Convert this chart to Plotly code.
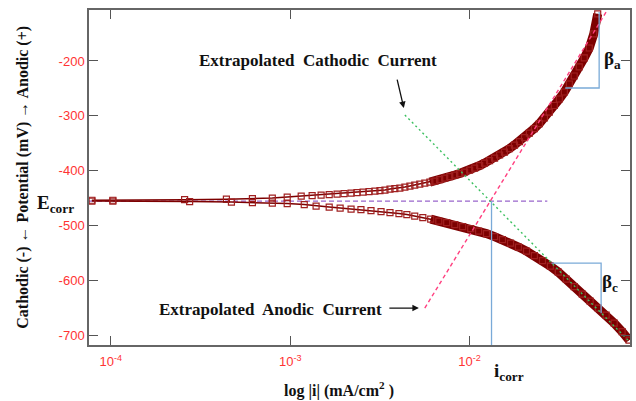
import plotly.graph_objects as go

# ---------------- data ----------------
# anodic (upper) branch: log10 |i| (mA/cm2) and potential (mV)
anodic_log_i = [-4.106, -3.989, -3.589, -3.356, -3.211, -3.100, -3.017, -2.939, -2.878, -2.828,
                -2.783, -2.739, -2.700, -2.661, -2.628, -2.594, -2.561, -2.528, -2.500, -2.472,
                -2.444, -2.417, -2.389, -2.361, -2.333, -2.306, -2.278, -2.250, -2.222, -2.194,
                -2.167, -2.139, -2.111, -2.083, -2.056, -2.028, -2.000, -1.972, -1.944, -1.917,
                -1.889, -1.861, -1.833, -1.806, -1.778, -1.750, -1.722, -1.694, -1.667, -1.639,
                -1.611, -1.583, -1.556, -1.528, -1.500, -1.472, -1.444, -1.417, -1.389, -1.361,
                -1.333, -1.308, -1.286]
anodic_E = [-454, -454, -453, -452, -451, -450, -448.2, -446.3, -445.4, -444.5,
            -443.6, -442.7, -441.8, -440.9, -440.0, -439.0, -438.1, -437.2, -436.3, -435.4,
            -433.6, -432.7, -431.8, -429.9, -428.1, -426.3, -424.5, -422.6, -420.8, -419.0,
            -416.2, -413.5, -410.8, -408.0, -405.3, -402.6, -398.9, -395.3, -390.7, -386.1,
            -381.6, -377.0, -371.5, -366.1, -359.7, -353.3, -346.9, -339.6, -331.4, -323.2,
            -314.1, -304.0, -293.1, -281.2, -269.3, -256.6, -242.0, -227.4, -210.9, -194.5,
            -176.3, -150.7, -114.2]

# cathodic (lower) branch
cathodic_log_i = [-4.106, -3.989, -3.561, -3.328, -3.211, -3.100, -3.017, -2.922, -2.856, -2.783,
                  -2.722, -2.661, -2.606, -2.550, -2.494, -2.444, -2.394, -2.350, -2.306, -2.261,
                  -2.217, -2.172, -2.128, -2.083, -2.039, -1.994, -1.950, -1.906, -1.861, -1.817,
                  -1.772, -1.728, -1.683, -1.639, -1.594, -1.550, -1.506, -1.461, -1.417, -1.372,
                  -1.328, -1.283, -1.239, -1.194, -1.150, -1.111]
cathodic_E = [-455.5, -455.5, -456.4, -457.3, -458.2, -459.1, -460.0, -461.9, -464.6, -466.4,
              -468.3, -470.1, -471.0, -472.8, -474.6, -476.5, -478.3, -480.1, -482.8, -485.6,
              -488.3, -491.9, -494.7, -498.4, -502.0, -505.7, -510.2, -514.8, -520.3, -525.7,
              -532.1, -539.4, -546.7, -554.9, -564.1, -574.1, -585.0, -597.8, -611.5, -625.2,
              -637.9, -650.7, -663.5, -678.1, -693.6, -709.1]

# extrapolated Tafel lines (log i, E)
cath_extrap_log_i = [-2.361, -1.117]
cath_extrap_E = [-298.5, -709.1]
anod_extrap_log_i = [-2.250, -1.239]
anod_extrap_E = [-650.7, -110.6]

E_corr = -455.5
log_i_corr = -1.878
ecorr_line_log_i = [-4.122, -1.567]

# beta triangles (log i, E)
beta_a_log_i = [-1.467, -1.278, -1.278]
beta_a_E = [-249.3, -249.3, -110.6]
beta_c_log_i = [-1.544, -1.267, -1.267]
beta_c_E = [-568.6, -568.6, -659.9]

x_range_log = [-4.122, -1.106]
y_range = [-718, -107]
y_ticks = [-200, -300, -400, -500, -600, -700]
y_tick_text = ['-200', '-300', '-400', '-500', '-600', '-700']
x_ticks = [1e-4, 1e-3, 1e-2]
x_tick_text = ['10<sup>-4</sup>', '10<sup>-3</sup>', '10<sup>-2</sup>']

# ---------------- figure ----------------
def to_i(logs):
    return [10 ** v for v in logs]

dark_red = '#7d0000'
fig = go.Figure()

fig.add_trace(go.Scatter(x=to_i(ecorr_line_log_i), y=[E_corr, E_corr], mode='lines',
                         line=dict(color='#9966cc', width=1.3, dash='5px,3px'), hoverinfo='skip'))

# thick band where data are dense
band_a = [(a, b) for a, b in zip(anodic_log_i, anodic_E) if a > -2.25]
band_c = [(a, b) for a, b in zip(cathodic_log_i, cathodic_E) if a > -2.25]
for band in (band_a, band_c):
    fig.add_trace(go.Scatter(x=to_i([p[0] for p in band]), y=[p[1] for p in band], mode='lines',
                             line=dict(color=dark_red, width=9), hoverinfo='skip'))

for lx, ly in ((anodic_log_i, anodic_E), (cathodic_log_i, cathodic_E)):
    fig.add_trace(go.Scatter(x=to_i(lx), y=ly, mode='lines+markers',
                             line=dict(color=dark_red, width=1.5),
                             marker=dict(symbol='square-open', size=6, color='#a02020',
                                         line=dict(width=1.2, color='#a02020'))))

fig.add_trace(go.Scatter(x=to_i(cath_extrap_log_i), y=cath_extrap_E, mode='lines',
                         line=dict(color='#3cc060', width=1.4, dash='2px,3px'), hoverinfo='skip'))
fig.add_trace(go.Scatter(x=to_i(anod_extrap_log_i), y=anod_extrap_E, mode='lines',
                         line=dict(color='#ff3f7f', width=1.4, dash='4px,3px'), hoverinfo='skip'))

blue = '#7aaad8'
fig.add_trace(go.Scatter(x=to_i([log_i_corr, log_i_corr]), y=[E_corr, y_range[0]], mode='lines',
                         line=dict(color=blue, width=1.3), hoverinfo='skip'))
fig.add_trace(go.Scatter(x=to_i(beta_a_log_i), y=beta_a_E, mode='lines',
                         line=dict(color=blue, width=1.3), hoverinfo='skip'))
fig.add_trace(go.Scatter(x=to_i(beta_c_log_i), y=beta_c_E, mode='lines',
                         line=dict(color=blue, width=1.3), hoverinfo='skip'))

serif = 'Liberation Serif, Times New Roman, serif'
lab = dict(family=serif, size=17, color='#111')
big = dict(family=serif, size=19, color='#111')
ann = [
    dict(x=-2.844, y=-200, xref='x', yref='y', text='<b>Extrapolated  Cathodic  Current</b>',
         showarrow=False, font=lab, xanchor='center', yanchor='middle'),
    dict(x=-2.367, y=-285.8, xref='x', yref='y', text='', showarrow=True, ax=-7, ay=-30,
         arrowhead=2, arrowsize=1, arrowwidth=1.3, arrowcolor='#111'),
    dict(x=-3.111, y=-652.6, xref='x', yref='y', text='<b>Extrapolated  Anodic  Current</b>',
         showarrow=False, font=lab, xanchor='center', yanchor='middle'),
    dict(x=-2.283, y=-650.7, xref='x', yref='y', text='', showarrow=True, ax=-31, ay=0,
         arrowhead=2, arrowsize=1, arrowwidth=1.3, arrowcolor='#111'),
    dict(x=-0.062, y=-460, xref='paper', yref='y', text='<b>E<sub>corr</sub></b>',
         showarrow=False, font=big, xanchor='center', yanchor='middle'),
    dict(x=-1.778, y=-0.081, xref='x', yref='paper', text='<b>i<sub>corr</sub></b>',
         showarrow=False, font=big, xanchor='center', yanchor='middle'),
    dict(x=-1.206, y=-198, xref='x', yref='y', text='<b>β<sub>a</sub></b>',
         showarrow=False, font=big, xanchor='center', yanchor='middle'),
    dict(x=-1.217, y=-605, xref='x', yref='y', text='<b>β<sub>c</sub></b>',
         showarrow=False, font=big, xanchor='center', yanchor='middle'),
    dict(x=0.463, y=-0.132, xref='paper', yref='paper', text='<b>log |i| (mA/cm<sup>2</sup> )</b>',
         showarrow=False, font=dict(family=serif, size=16, color='#111'),
         xanchor='center', yanchor='middle'),
    dict(x=-0.1234, y=0.5, xref='paper', yref='paper', textangle=-90,
         text='<b>Cathodic (-) ← Potential (mV) → Anodic (+)</b>',
         showarrow=False, font=dict(family=serif, size=16, color='#111'),
         xanchor='center', yanchor='middle'),
]

axis_common = dict(showline=True, linecolor='#666', linewidth=1.5, mirror='ticks',
                   ticks='inside', ticklen=9, tickwidth=1.3, tickcolor='#555',
                   showgrid=False, zeroline=False)
fig.update_xaxes(type='log', range=x_range_log, tickvals=x_ticks, ticktext=x_tick_text,
                 ticklabelstandoff=4,
                 tickfont=dict(family='Liberation Sans, Arial', size=13, color='#ff3333'),
                 **axis_common)
fig.update_yaxes(range=y_range, tickvals=y_ticks, ticktext=y_tick_text,
                 tickfont=dict(family='Liberation Sans, Arial', size=13, color='#ff3333'),
                 **axis_common)
fig.update_layout(width=636, height=401, margin=dict(l=89, r=4, t=10, b=56),
                  paper_bgcolor='white', plot_bgcolor='white', showlegend=False,
                  annotations=ann)
fig.write_html('out.html')
